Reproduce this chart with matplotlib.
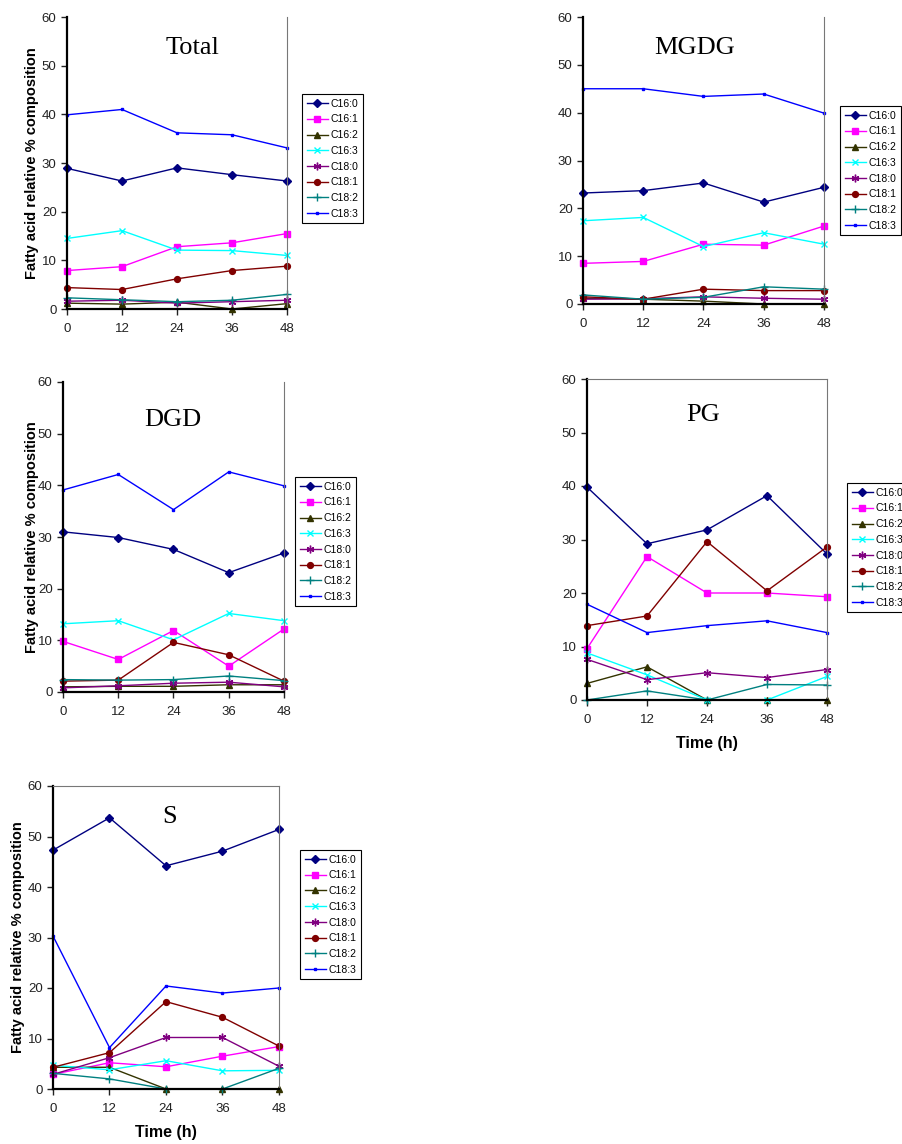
import matplotlib
matplotlib.use("Agg")
import matplotlib.pyplot as plt

plt.rcParams["font.family"] = ["Liberation Sans", "DejaVu Sans"]

W, H = 903, 1144

HOURS = [0, 12, 24, 36, 48]
ACIDS = ["C16:0", "C16:1", "C16:2", "C16:3", "C18:0", "C18:1", "C18:2", "C18:3"]

# one row per acid, in ACIDS order
TOTAL = [
    [28.9, 26.3, 29.0, 27.6, 26.3],
    [7.9, 8.7, 12.8, 13.6, 15.5],
    [1.2, 1.0, 1.4, 0.0, 1.1],
    [14.5, 16.1, 12.1, 12.0, 11.0],
    [1.6, 1.8, 1.2, 1.5, 1.8],
    [4.4, 4.0, 6.2, 7.9, 8.8],
    [2.3, 1.9, 1.5, 1.8, 3.0],
    [39.9, 41.0, 36.2, 35.8, 33.1],
]
MGDG = [
    [23.2, 23.7, 25.3, 21.3, 24.4],
    [8.5, 8.9, 12.5, 12.3, 16.3],
    [1.2, 1.0, 0.6, 0.0, 0.0],
    [17.4, 18.1, 12.0, 14.9, 12.5],
    [1.0, 1.1, 1.5, 1.2, 1.0],
    [1.5, 1.0, 3.1, 2.8, 2.8],
    [1.9, 1.0, 1.4, 3.6, 3.1],
    [45.0, 45.0, 43.4, 43.9, 39.9],
]
DGD = [
    [31.0, 29.9, 27.6, 23.1, 26.9],
    [9.8, 6.3, 11.9, 5.0, 12.2],
    [1.0, 1.1, 1.1, 1.4, 1.4],
    [13.2, 13.8, 10.1, 15.2, 13.8],
    [0.8, 1.2, 1.7, 1.9, 1.0],
    [2.1, 2.3, 9.6, 7.2, 2.1],
    [2.4, 2.3, 2.4, 3.1, 2.2],
    [39.1, 42.1, 35.3, 42.6, 39.9],
]
PG = [
    [39.8, 29.2, 31.8, 38.2, 27.3],
    [9.6, 26.8, 20.0, 20.0, 19.3],
    [3.1, 6.2, 0.0, 0.0, 0.0],
    [8.8, 4.7, 0.0, 0.0, 4.4],
    [7.6, 3.8, 5.1, 4.2, 5.7],
    [13.9, 15.7, 29.6, 20.4, 28.6],
    [0.0, 1.7, 0.0, 2.9, 2.8],
    [17.9, 12.6, 13.9, 14.8, 12.6],
]
S = [
    [47.3, 53.7, 44.2, 47.1, 51.4],
    [2.9, 5.2, 4.4, 6.5, 8.4],
    [4.3, 4.3, 0.0, 0.0, 0.0],
    [4.7, 3.8, 5.6, 3.6, 3.7],
    [2.9, 6.2, 10.2, 10.2, 4.5],
    [4.3, 7.2, 17.3, 14.2, 8.5],
    [3.1, 2.0, 0.0, 0.0, 4.1],
    [30.3, 8.2, 20.4, 19.0, 20.0],
]

# Excel-like series styles: (colour, marker, marker size)
STYLES = [
    ("#000080", "D", 3.8),
    ("#FF00FF", "s", 4.2),
    ("#333300", "^", 4.2),
    ("#00FFFF", "x", 4.8),
    ("#800080", (6, 2, 0), 5.5),
    ("#800000", "o", 4.2),
    ("#008080", "+", 5.5),
    ("#0000FF", "s", 1.6),
]

# panel: name, data, axes box (px: left, top, right, bottom), title centre (px),
# legend top-left (px), y label x (px) or None, show "Time (h)", top spine
PANELS = [
    ("Total", TOTAL, (67, 17, 287, 309), (193, 48), (302, 94), 32, False, False),
    ("MGDG", MGDG, (583, 17, 824, 304), (695, 48), (840, 106), None, False, False),
    ("DGD", DGD, (63, 382, 284, 692), (173, 420), (295, 477), 32, False, False),
    ("PG", PG, (587, 379, 827, 700), (703, 415), (847, 483), None, True, True),
    ("S", S, (53, 786, 279, 1089), (170, 817), (300, 850), 18, True, True),
]

fig = plt.figure(figsize=(W / 100, H / 100), dpi=100)

for name, data, box, tpos, lpos, ylx, xlab, topspine in PANELS:
    l, t, r, b = box
    ax = fig.add_axes([l / W, 1 - b / H, (r - l) / W, (b - t) / H])
    for acid, vals, (col, mk, ms) in zip(ACIDS, data, STYLES):
        ax.plot(HOURS, vals, color=col, marker=mk, markersize=ms, lw=1.0,
                mew=1.0, label=acid, clip_on=False)
    ax.set_xlim(0, 48)
    ax.set_ylim(0, 60)
    ax.set_xticks(HOURS)
    ax.set_yticks(range(0, 61, 10))
    ax.tick_params(labelsize=9.5, length=4, width=1, colors="#222222")
    ax.tick_params(axis="x", pad=6)
    for side in ("left", "bottom"):
        ax.spines[side].set_linewidth(1.6)
        ax.spines[side].set_color("black")
    ax.spines["right"].set_color("#777777")
    ax.spines["right"].set_linewidth(0.8)
    if topspine:
        ax.spines["top"].set_color("#777777")
        ax.spines["top"].set_linewidth(0.8)
    else:
        ax.spines["top"].set_visible(False)

    fig.text(tpos[0] / W, 1 - tpos[1] / H, name, ha="center", va="center",
             fontsize=19, family="Liberation Serif")

    if ylx is not None:
        fig.text(ylx / W, 1 - (t + b) / 2 / H, "Fatty acid relative % composition",
                 rotation=90, ha="center", va="center", fontsize=10.5,
                 fontweight="bold")
    if xlab:
        ax.set_xlabel("Time (h)", fontsize=11.5, fontweight="bold", labelpad=7)

    leg = ax.legend(loc="upper left", bbox_to_anchor=(lpos[0] / W, 1 - lpos[1] / H),
                    bbox_transform=fig.transFigure, fontsize=7.5, frameon=True,
                    fancybox=False, edgecolor="black", framealpha=1,
                    handlelength=2.0, handletextpad=0.3, labelspacing=0.55,
                    borderpad=0.45, borderaxespad=0)
    leg.get_frame().set_linewidth(0.8)

fig.savefig("out.png", dpi=100)
